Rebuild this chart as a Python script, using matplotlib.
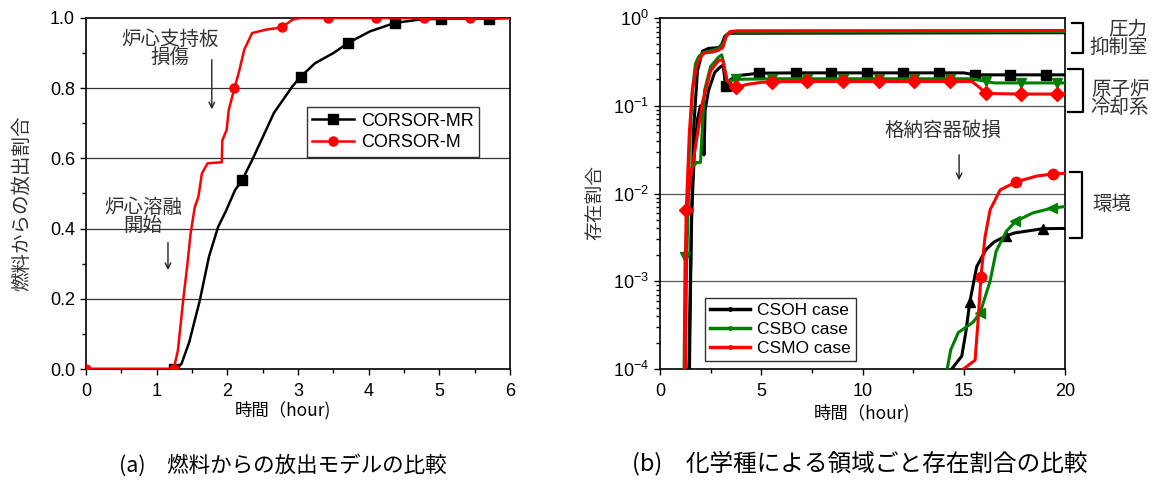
import numpy as np
import matplotlib
matplotlib.use("Agg")
import matplotlib.pyplot as plt
from matplotlib.ticker import MultipleLocator, LogLocator, NullFormatter
from matplotlib.lines import Line2D
import matplotlib.transforms as mtrans

plt.rcParams['font.family'] = ['Liberation Sans', 'Noto Sans CJK JP', 'DejaVu Sans']
JP = ['Noto Sans CJK JP', 'DejaVu Sans']

# ---- (a) release fraction from fuel ----
t_mr = [0, 1.25, 1.35, 1.46, 1.61, 1.74, 1.87, 1.98, 2.11, 2.21, 2.35, 2.50, 2.66, 2.82,
        2.92, 3.04, 3.24, 3.50, 3.71, 4.02, 4.37, 4.70, 5.02, 5.70, 6.0]
v_mr = [0, 0, 0.014, 0.076, 0.195, 0.32, 0.405, 0.45, 0.51, 0.538, 0.595, 0.66, 0.73, 0.776,
        0.805, 0.833, 0.871, 0.90, 0.929, 0.962, 0.986, 0.995, 0.998, 0.998, 1.0]
mark_mr = [1.25, 2.21, 3.04, 3.71, 4.37, 5.02, 5.70]

t_m = [0, 1.24, 1.30, 1.38, 1.43, 1.48, 1.54, 1.59, 1.64, 1.72, 1.92, 1.93, 1.99, 2.02, 2.10,
       2.16, 2.24, 2.35, 2.55, 2.77, 2.92, 3.03, 3.43, 4.10, 4.78, 5.43, 6.0]
v_m = [0, 0, 0.052, 0.205, 0.29, 0.386, 0.462, 0.49, 0.557, 0.586, 0.589, 0.652, 0.681, 0.738, 0.80,
       0.843, 0.91, 0.957, 0.967, 0.973, 0.995, 1.0, 1.0, 1.0, 1.0, 1.0, 1.0]
mark_m = [0, 1.24, 2.10, 2.77, 3.43, 4.10, 4.78, 5.43]

# ---- (b) fraction by region, three cases ----
# CSOH case
soh_sc_t = [1.35, 1.5, 1.65, 1.85, 2.1, 2.4, 2.9, 3.05, 3.2, 3.4, 20]
soh_sc_v = [1e-5, 1e-3, 0.05, 0.25, 0.42, 0.45, 0.46, 0.5, 0.62, 0.67, 0.68]
soh_rcs_t = [1.4, 1.55, 1.7, 1.85, 2.0, 2.1, 2.17, 2.23, 2.4, 2.7, 3.0, 3.12, 3.2, 3.26, 3.5, 3.8,
             4.9, 6.7, 8.45, 10.2, 12.0, 13.8, 15.0, 15.55, 17.3, 19.05, 20]
soh_rcs_v = [1e-5, 5e-3, 0.03, 0.07, 0.1, 0.09, 0.0275, 0.09, 0.15, 0.24, 0.28, 0.29, 0.2, 0.17, 0.2, 0.22,
             0.235, 0.237, 0.237, 0.237, 0.237, 0.237, 0.237, 0.225, 0.225, 0.225, 0.225]
soh_rcs_mark = [3.26, 4.9, 6.7, 8.45, 10.2, 12.0, 13.8, 15.55, 17.3, 19.05]
soh_env_t = [14.4, 14.9, 15.1, 15.3, 15.64, 16.1, 16.5, 17.1, 17.5, 18.9, 20]
soh_env_v = [1e-4, 1.4e-4, 2.6e-4, 5.8e-4, 1.47e-3, 2.3e-3, 2.8e-3, 3.3e-3, 3.55e-3, 3.97e-3, 4.0e-3]
soh_env_mark = [15.3, 17.1, 18.9]

# CSBO case
sbo_sc_t = [1.2, 1.3, 1.45, 1.6, 1.75, 1.9, 2.1, 2.5, 2.9, 3.1, 3.3, 3.5, 20]
sbo_sc_v = [1e-5, 1e-3, 0.03, 0.15, 0.3, 0.36, 0.40, 0.42, 0.45, 0.5, 0.65, 0.69, 0.70]
sbo_rcs_t = [1.15, 1.24, 1.4, 1.6, 1.82, 2.0, 2.1, 2.2, 2.5, 2.9, 3.05, 3.15, 3.3, 3.6, 3.76,
             5.52, 7.28, 9.04, 10.8, 12.56, 14.32, 15.4, 16.08, 16.5, 17.84, 19.6, 20]
sbo_rcs_v = [1e-5, 1.9e-3, 0.01, 0.02, 0.0226, 0.0226, 0.06, 0.15, 0.28, 0.36, 0.38, 0.3, 0.19, 0.195, 0.2,
             0.203, 0.203, 0.203, 0.203, 0.203, 0.203, 0.203, 0.19, 0.182, 0.182, 0.182, 0.182]
sbo_rcs_mark = [1.24, 3.76, 5.52, 7.28, 9.04, 10.8, 12.56, 14.32, 16.08, 17.84, 19.6]
sbo_env_t = [14.18, 14.36, 14.73, 15.45, 15.8, 16.3, 16.6, 17.1, 17.55, 18.4, 19.35, 20]
sbo_env_v = [1e-4, 1.66e-4, 2.6e-4, 3.4e-4, 4.3e-4, 1.0e-3, 2.2e-3, 3.7e-3, 4.8e-3, 6.0e-3, 6.8e-3, 7.1e-3]
sbo_env_mark = [15.8, 17.55, 19.35]

# CSMO case
smo_sc_t = [1.2, 1.3, 1.45, 1.6, 1.8, 2.0, 2.2, 2.6, 2.9, 3.1, 3.25, 3.45, 3.8, 20]
smo_sc_v = [1e-5, 6.5e-3, 0.05, 0.15, 0.28, 0.36, 0.40, 0.41, 0.43, 0.46, 0.6, 0.7, 0.715, 0.72]
smo_rcs_t = [1.2, 1.3, 1.5, 1.8, 2.1, 2.5, 2.9, 3.1, 3.3, 3.5, 3.75, 4.3, 5.0, 5.52,
             7.28, 9.04, 10.8, 12.56, 14.32, 15.4, 15.8, 16.08, 17.84, 19.6, 20]
smo_rcs_v = [1e-5, 6.5e-3, 0.015, 0.04, 0.11, 0.25, 0.33, 0.33, 0.2, 0.17, 0.162, 0.175, 0.185, 0.188,
             0.189, 0.189, 0.189, 0.189, 0.189, 0.189, 0.16, 0.138, 0.136, 0.136, 0.136]
smo_rcs_mark = [1.3, 3.75, 5.52, 7.28, 9.04, 10.8, 12.56, 14.32, 16.08, 17.84, 19.6]
smo_env_t = [14.98, 15.56, 15.72, 15.85, 16.05, 16.3, 16.8, 17.6, 18.6, 19.4, 20]
smo_env_v = [1e-4, 1.26e-4, 3.9e-4, 1.13e-3, 3.2e-3, 6.5e-3, 1.1e-2, 1.36e-2, 1.58e-2, 1.67e-2, 1.7e-2]
smo_env_mark = [15.85, 17.6, 19.4]


def idx(t, marks):
    return [list(t).index(m) for m in marks]


fig = plt.figure(figsize=(11.56, 4.83), dpi=100)
W, H = 1156.0, 483.0
ax1 = fig.add_axes([86 / W, 1 - 369 / H, 424 / W, 351 / H])
ax2 = fig.add_axes([660 / W, 1 - 369 / H, 405 / W, 351 / H])

for ax in (ax1, ax2):
    for s in ax.spines.values():
        s.set_linewidth(1.2)
    ax.tick_params(which='both', direction='out', labelsize=13, width=1.0, pad=4)
    ax.tick_params(which='major', length=4)
    ax.tick_params(which='minor', length=3)

# ---- (a) ----
ax1.plot(t_mr, v_mr, color='black', lw=1.8, marker='s', ms=6.5,
         markevery=idx(t_mr, mark_mr), label='CORSOR-MR', zorder=3)
ax1.plot(t_m, v_m, color='#ff0000', lw=1.8, marker='o', ms=6.5,
         markevery=idx(t_m, mark_m), label='CORSOR-M', zorder=4)
ax1.set_xlim(0, 6)
ax1.set_ylim(0, 1)
ax1.xaxis.set_major_locator(MultipleLocator(1))
ax1.xaxis.set_minor_locator(MultipleLocator(0.5))
ax1.yaxis.set_major_locator(MultipleLocator(0.2))
ax1.yaxis.set_minor_locator(MultipleLocator(0.1))
ax1.yaxis.set_major_formatter(plt.FuncFormatter(lambda v, p: '%.1f' % v))
for g in (0.2, 0.4, 0.6, 0.8):
    ax1.axhline(g, color='#333333', lw=0.9, zorder=1)
ax1.tick_params(axis='x', pad=6)
leg1 = ax1.legend(loc='upper left', bbox_to_anchor=(0.521, 0.746), borderaxespad=0,
                  fontsize=13, frameon=True, fancybox=False, edgecolor='black',
                  handlelength=2.3, handletextpad=0.4, borderpad=0.3, labelspacing=0.25)
leg1.get_frame().set_linewidth(1.0)

ax1.text(1.19, 0.913, '炉心支持板\n損傷', family=JP, fontsize=14, color='#333333',
         ha='center', va='center', multialignment='center', linespacing=0.85)
ax1.annotate('', xy=(1.78, 0.732), xytext=(1.78, 0.889),
             arrowprops=dict(arrowstyle='->', color='#222222', lw=1.0))
ax1.text(0.81, 0.435, '炉心溶融\n開始', family=JP, fontsize=14, color='#333333',
         ha='center', va='center', multialignment='center', linespacing=0.85)
ax1.annotate('', xy=(1.16, 0.274), xytext=(1.16, 0.368),
             arrowprops=dict(arrowstyle='->', color='#222222', lw=1.0))

# ---- (b) ----
cases = [
    ('CSOH case', 'black', [(soh_sc_t, soh_sc_v, None, None, 0),
                             (soh_rcs_t, soh_rcs_v, soh_rcs_mark, 's', 7),
                             (soh_env_t, soh_env_v, soh_env_mark, '^', 7)]),
    ('CSBO case', '#008000', [(sbo_sc_t, sbo_sc_v, None, None, 0),
                               (sbo_rcs_t, sbo_rcs_v, sbo_rcs_mark, 'v', 7.5),
                               (sbo_env_t, sbo_env_v, sbo_env_mark, '<', 7.5)]),
    ('CSMO case', '#ff0000', [(smo_sc_t, smo_sc_v, None, None, 0),
                               (smo_rcs_t, smo_rcs_v, smo_rcs_mark, 'D', 7),
                               (smo_env_t, smo_env_v, smo_env_mark, 'o', 7.5)]),
]
handles = []
for z, (name, col, series) in enumerate(cases):
    for t, v, marks, mk, ms in series:
        if marks is None:
            ax2.plot(t, v, color=col, lw=2.2, zorder=3 + z)
        else:
            ax2.plot(t, v, color=col, lw=2.2, marker=mk, ms=ms,
                     markevery=idx(t, marks), zorder=3 + z)
    handles.append(Line2D([], [], color=col, lw=2.5, marker='o', ms=2.5, label=name))

ax2.set_yscale('log')
ax2.set_xlim(0, 20)
ax2.set_ylim(1e-4, 1)
ax2.xaxis.set_major_locator(MultipleLocator(5))
ax2.xaxis.set_minor_locator(MultipleLocator(2.5))
ax2.yaxis.set_major_locator(LogLocator(base=10, numticks=10))
ax2.yaxis.set_minor_locator(LogLocator(base=10, subs=np.arange(2, 10), numticks=10))
ax2.yaxis.set_minor_formatter(NullFormatter())
for g in (1e-1, 1e-2, 1e-3):
    ax2.axhline(g, color='#555555', lw=0.9, zorder=1)
ax2.tick_params(axis='x', pad=6)
leg2 = ax2.legend(handles=handles, loc='lower left', bbox_to_anchor=(0.111, 0.023), borderaxespad=0,
                  fontsize=12.5, frameon=True, fancybox=False, edgecolor='black',
                  handlelength=2.3, handletextpad=0.4, borderpad=0.3, labelspacing=0.2)
leg2.get_frame().set_linewidth(1.0)

ax2.text(13.98, 0.053, '格納容器破損', family=JP, fontsize=14, color='#333333', ha='center', va='center')
ax2.annotate('', xy=(14.77, 0.0132), xytext=(14.77, 0.0297),
             arrowprops=dict(arrowstyle='->', color='#222222', lw=1.0))

# brackets at the right of (b)
bt = mtrans.blended_transform_factory(ax2.transAxes, ax2.transData)
brackets = [(1.017, 1.044, 0.877, 0.40), (1.007, 1.044, 0.26, 0.085), (1.012, 1.042, 0.0176, 0.0031)]
for xa, xv, yt, yb in brackets:
    ax2.plot([xa, xv, xv, xa], [yt, yt, yb, yb], color='black', lw=1.6,
             transform=bt, clip_on=False)
ax2.text(1.132, 0.584, '圧力\n抑制室', family=JP, fontsize=14, color='#333333', ha='center',
         va='center', multialignment='right', linespacing=0.85, transform=bt)
ax2.text(1.136, 0.121, '原子炉\n冷却系', family=JP, fontsize=14, color='#333333', ha='center',
         va='center', multialignment='center', linespacing=0.85, transform=bt)
ax2.text(1.116, 0.0075, '環境', family=JP, fontsize=14, color='#333333', ha='center', va='center', transform=bt)

# axis titles and captions
fig.text(22 / W, 1 - 203 / H, '燃料からの放出割合', family=JP, fontsize=14, color='#333333',
         rotation=90, ha='center', va='center')
fig.text(595 / W, 1 - 203 / H, '存在割合', family=JP, fontsize=13.5, color='#333333',
         rotation=90, ha='center', va='center')
fig.text(283 / W, 1 - 410 / H, '時間（hour)', family=JP, fontsize=12.5, ha='center', va='center')
fig.text(862 / W, 1 - 413 / H, '時間（hour)', family=JP, fontsize=12.5, ha='center', va='center')
fig.text(283 / W, 1 - 465 / H, '(a)　燃料からの放出モデルの比較', family=JP, fontsize=15.5,
         ha='center', va='center')
fig.text(860 / W, 1 - 463 / H, '(b)　化学種による領域ごと存在割合の比較', family=JP, fontsize=17,
         ha='center', va='center')

fig.savefig('out.png', dpi=100)
